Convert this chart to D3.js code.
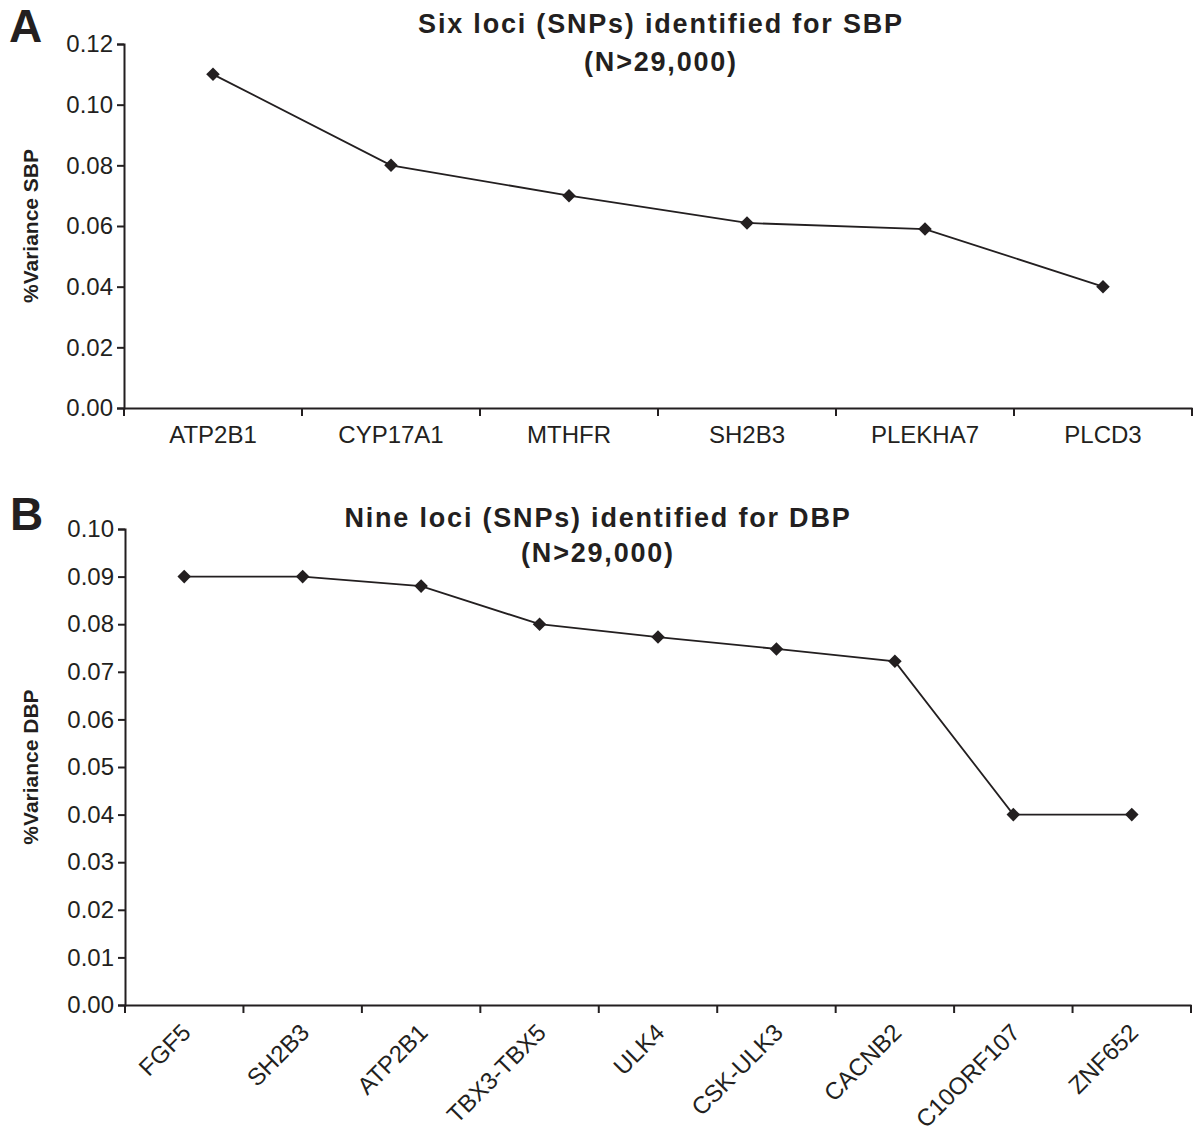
<!DOCTYPE html>
<html><head><meta charset="utf-8">
<script src="https://cdn.jsdelivr.net/npm/d3@7"></script>
<style>body{margin:0;background:#fff}svg{display:block}text{font-family:"Liberation Sans",Arial,sans-serif;fill:#231f20}</style>
</head><body>
<script>
const sbpLoci = ["ATP2B1","CYP17A1","MTHFR","SH2B3","PLEKHA7","PLCD3"];
const sbpVariance = [0.110, 0.080, 0.070, 0.061, 0.059, 0.040];
const sbpTicks = [0,0.02,0.04,0.06,0.08,0.10,0.12];
const dbpLoci = ["FGF5","SH2B3","ATP2B1","TBX3-TBX5","ULK4","CSK-ULK3","CACNB2","C10ORF107","ZNF652"];
const dbpVariance = [0.090, 0.090, 0.088, 0.080, 0.0773, 0.0748, 0.0722, 0.040, 0.040];
const dbpTicks = [0,0.01,0.02,0.03,0.04,0.05,0.06,0.07,0.08,0.09,0.10];

const W=1196,H=1135;
const svg=d3.select("body").append("svg").attr("width",W).attr("height",H);
const ink="#231f20";

function panel(o){
  const g=svg.append("g");
  const x=d3.scaleBand().domain(o.cats).range([o.x0,o.x1]);
  const y=d3.scaleLinear().domain([0,o.ymax]).range([o.yb,o.yt]);
  // y axis
  const ya=g.append("g").attr("transform",`translate(${o.x0},0)`)
    .call(d3.axisLeft(y).tickValues(o.ticks).tickFormat(d3.format(".2f")).tickSizeOuter(0).tickSize(7).tickPadding(4));
  ya.select(".domain").attr("stroke",ink).attr("stroke-width",2);
  ya.selectAll(".tick line").attr("stroke",ink).attr("stroke-width",2);
  ya.selectAll(".tick text").style("font-size","24px").attr("fill",ink);
  // x axis
  const xa=g.append("g").attr("transform",`translate(0,${o.yb})`)
    .call(d3.axisBottom(x).tickSize(0).tickPadding(0));
  xa.select(".domain").attr("stroke",ink).attr("stroke-width",2);
  xa.selectAll(".tick line").remove();
  // boundary ticks
  const bounds=o.cats.map(c=>x(c)).concat([o.x1]);
  g.selectAll("line.bt").data(bounds).join("line").attr("class","bt")
    .attr("x1",d=>d).attr("x2",d=>d).attr("y1",o.yb).attr("y2",o.yb+8)
    .attr("stroke",ink).attr("stroke-width",2);
  if(o.rotate){
    xa.selectAll(".tick text").style("font-size","24px").attr("text-anchor","end")
      .attr("dy","0").attr("y",0)
      .attr("transform","translate(8,29) rotate(-45)");
  } else {
    xa.selectAll(".tick text").style("font-size","24px").attr("y",18).attr("dy","0.71em");
  }
  // line + markers
  const pts=o.cats.map((c,i)=>[x(c)+x.bandwidth()/2,y(o.vals[i])]);
  g.append("path").attr("d",d3.line()(pts)).attr("fill","none").attr("stroke",ink).attr("stroke-width",1.8);
  g.selectAll("path.m").data(pts).join("path").attr("class","m")
    .attr("d",d3.symbol(d3.symbolSquare,92))
    .attr("transform",d=>`translate(${d[0]},${d[1]}) rotate(45)`).attr("fill",ink);
  // titles
  g.append("text").attr("x",o.tx).attr("y",o.ty).attr("text-anchor","middle")
    .style("font-size","27px").style("font-weight","bold").style("letter-spacing","1.8px").text(o.title1);
  g.append("text").attr("x",o.tx).attr("y",o.ty+o.tgap).attr("text-anchor","middle")
    .style("font-size","27px").style("font-weight","bold").style("letter-spacing","1.8px").text("(N>29,000)");
  g.append("text").attr("x",o.lx).attr("y",o.ly).style("font-size","46px").style("font-weight","bold").text(o.letter);
  g.append("text").attr("transform",`translate(38,${(o.yb+o.yt)/2}) rotate(-90)`).attr("text-anchor","middle")
    .style("font-size","21px").style("font-weight","bold").text(o.ytitle);
}

panel({cats:sbpLoci,vals:sbpVariance,ticks:sbpTicks,ymax:0.12,x0:124,x1:1192,yt:44,yb:408,
  rotate:false,title1:"Six loci (SNPs) identified for SBP",tx:661,ty:33,tgap:38,letter:"A",lx:9,ly:42,ytitle:"%Variance SBP"});
panel({cats:dbpLoci,vals:dbpVariance,ticks:dbpTicks,ymax:0.10,x0:125,x1:1191,yt:529,yb:1005,
  rotate:true,title1:"Nine loci (SNPs) identified for DBP",tx:598,ty:527,tgap:35,letter:"B",lx:10,ly:530,ytitle:"%Variance DBP"});
</script>
</body></html>
